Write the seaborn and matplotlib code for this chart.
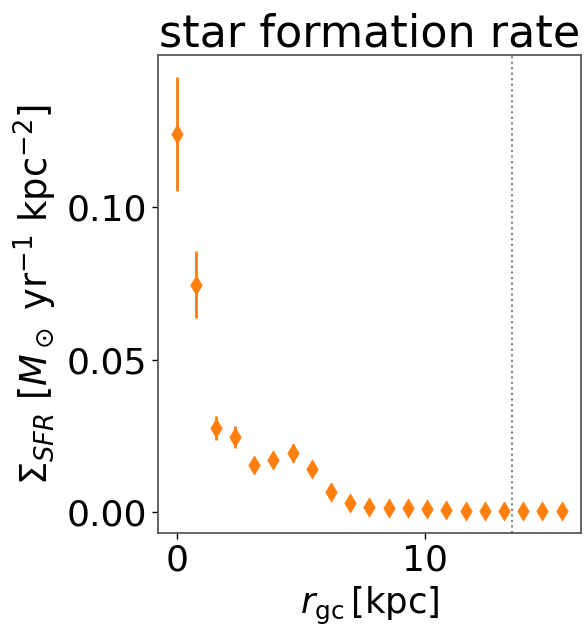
import matplotlib
matplotlib.use("Agg")
import matplotlib.pyplot as plt
import seaborn as sns
import pandas as pd

r_gc = [0.0, 0.77, 1.55, 2.32, 3.10, 3.87, 4.65, 5.42, 6.20, 6.97, 7.75,
        8.52, 9.30, 10.07, 10.85, 11.62, 12.40, 13.17, 13.95, 14.72, 15.50]
sfr = [0.124, 0.0745, 0.0275, 0.0245, 0.0154, 0.0171, 0.0193, 0.0141, 0.0066,
       0.0031, 0.0017, 0.0014, 0.0012, 0.0010, 0.0008, 0.0005, 0.0004, 0.0003,
       0.0002, 0.0002, 0.0002]
sfr_err = [0.0187, 0.0110, 0.0040, 0.0036, 0.0015, 0.0016, 0.0029, 0.0014, 0.0008,
           0.0004, 0.0003, 0.0002, 0.0002, 0.0002, 0.0001, 0.0001, 0.0001, 0.0001,
           0.0001, 0.0001, 0.0001]
r_vline = 13.5
xticks = [0, 10]
yticks = [0.00, 0.05, 0.10]

df = pd.DataFrame({"r": r_gc, "sfr": sfr, "err": sfr_err})

sns.set_style("ticks")
plt.rcParams['font.family'] = ['DejaVu Sans']
plt.rcParams['mathtext.fontset'] = 'dejavusans'
plt.rcParams['text.color'] = 'black'
plt.rcParams['axes.labelcolor'] = 'black'
plt.rcParams['xtick.color'] = 'black'
plt.rcParams['ytick.color'] = 'black'

fig = plt.figure(figsize=(5.84, 6.28), dpi=100)
ax = fig.add_axes([0.2705, 0.1505, 0.9949 - 0.2705, 0.9124 - 0.1505])

orange = "#ff7f0e"
ax.errorbar(df["r"], df["sfr"], yerr=df["err"], fmt="none", ecolor=orange,
            elinewidth=2.0, zorder=2)
sns.scatterplot(data=df, x="r", y="sfr", marker="d", s=95, color=orange,
                edgecolor=orange, linewidth=0.5, ax=ax, zorder=3)
ax.axvline(r_vline, color="gray", ls=":", lw=1.5, zorder=1)

ax.set_xticks(xticks)
ax.set_yticks(yticks)
ax.set_yticklabels([f"{v:.2f}" for v in yticks])
ax.tick_params(labelsize=26, length=4, width=1, color="black", labelcolor="black")
for s in ax.spines.values():
    s.set_color("0.35")
    s.set_linewidth(1.3)

ax.set_xlabel(r"$r_{\rm gc}\,$[kpc]", fontsize=25.5, labelpad=5)
ax.set_ylabel(r"$\Sigma_{SFR}$ [$M_\odot$ yr$^{-1}$ kpc$^{-2}$]", fontsize=26.5, labelpad=6)
ax.set_title("star formation rate", fontsize=32, pad=6)

fig.savefig("out.png", dpi=100)
